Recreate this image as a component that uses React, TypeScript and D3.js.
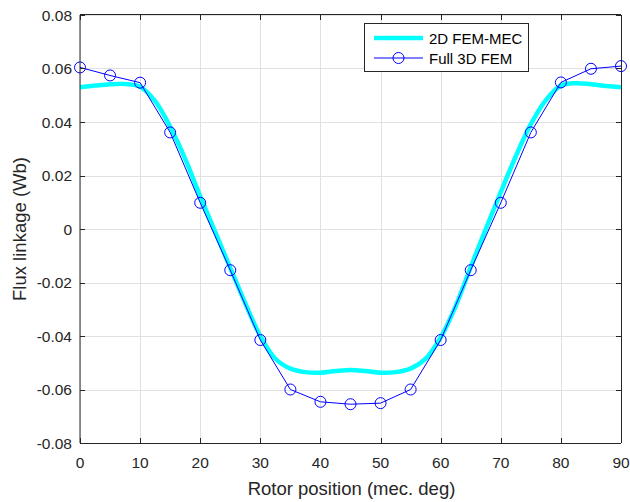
import React from "react";
import * as d3 from "d3";

const fem2dDeg = [0, 2.5, 5, 7.5, 10, 12.5, 15, 17.5, 20, 22.5, 25, 27.5, 30, 32.5, 35, 37.5, 40, 42.5, 45, 47.5, 50, 52.5, 55, 57.5, 60, 62.5, 65, 67.5, 70, 72.5, 75, 77.5, 80, 82.5, 85, 87.5, 90];
const fem2dVal = [0.0530, 0.0536, 0.0541, 0.0542, 0.0532, 0.0478, 0.0382, 0.0262, 0.0122, -0.0012, -0.0145, -0.0278, -0.0400, -0.0485, -0.0522, -0.0535, -0.0537, -0.0531, -0.0527, -0.0531, -0.0537, -0.0535, -0.0522, -0.0485, -0.0405, -0.0288, -0.0142, 0.0000, 0.0138, 0.0272, 0.0392, 0.0482, 0.0536, 0.0545, 0.0541, 0.0535, 0.0530];

const fem3dDeg = [0, 5, 10, 15, 20, 25, 30, 35, 40, 45, 50, 55, 60, 65, 70, 75, 80, 85, 90];
const fem3dVal = [0.0604, 0.0574, 0.0547, 0.0361, 0.0098, -0.0154, -0.0415, -0.0600, -0.0646, -0.0655, -0.0651, -0.0600, -0.0415, -0.0154, 0.0098, 0.0361, 0.0548, 0.0599, 0.0609];

const xTicks = [0, 10, 20, 30, 40, 50, 60, 70, 80, 90];
const yTicks = [-0.08, -0.06, -0.04, -0.02, 0, 0.02, 0.04, 0.06, 0.08];
const yTickLabels = ["-0.08", "-0.06", "-0.04", "-0.02", "0", "0.02", "0.04", "0.06", "0.08"];
const seriesNames = ["2D FEM-MEC", "Full 3D FEM"];
const xLabel = "Rotor position (mec. deg)";
const yLabel = "Flux linkage (Wb)";

const W = 630, H = 502;
const L = 80, R = 621, T = 15, B = 443;
const FONT = "'Liberation Sans', Arial, sans-serif";
const AX = "#262626";
const GRID = "#e1e1e1";

export default function App() {
  const x = d3.scaleLinear().domain([0, 90]).range([L, R]);
  const y = d3.scaleLinear().domain([-0.08, 0.08]).range([B, T]);

  const line2d = d3.line<number>()
    .x((_, i) => x(fem2dDeg[i]))
    .y((d) => y(d))
    .curve(d3.curveCatmullRom.alpha(0.5));
  const line3d = d3.line<number>()
    .x((_, i) => x(fem3dDeg[i]))
    .y((d) => y(d));

  const lx0 = 374, lx1 = 423, ly1 = 38, ly2 = 58;

  return (
    <svg width={W} height={H} style={{ position: "absolute", left: 0, top: 0 }} fontFamily={FONT}>
      <rect x={0} y={0} width={W} height={H} fill="#fff" />
      <rect x={L} y={T} width={R - L} height={B - T} fill="#fff" />
      {/* grid */}
      {xTicks.map((t) => (
        <line key={"gx" + t} x1={Math.round(x(t)) + 0.5} x2={Math.round(x(t)) + 0.5} y1={T} y2={B} stroke={GRID} strokeWidth={1} />
      ))}
      {yTicks.map((t) => (
        <line key={"gy" + t} x1={L} x2={R} y1={Math.round(y(t)) + 0.5} y2={Math.round(y(t)) + 0.5} stroke={GRID} strokeWidth={1} />
      ))}
      {/* data */}
      <path d={line2d(fem2dVal) || ""} fill="none" stroke="#00ffff" strokeWidth={4.5} />
      <path d={line3d(fem3dVal) || ""} fill="none" stroke="#0000ff" strokeWidth={1} />
      {fem3dVal.map((v, i) => (
        <circle key={"m" + i} cx={x(fem3dDeg[i])} cy={y(v)} r={5.5} fill="none" stroke="#0000ff" strokeWidth={1} />
      ))}
      {/* axes box */}
      <line x1={L} x2={R} y1={B + 0.5} y2={B + 0.5} stroke={AX} />
      <line x1={L} x2={R} y1={T - 0.5} y2={T - 0.5} stroke={AX} />
      <line x1={L} x2={L} y1={T} y2={B} stroke={AX} />
      <line x1={R + 0.5} x2={R + 0.5} y1={T} y2={B} stroke={AX} />
      {xTicks.map((t) => (
        <g key={"tx" + t}>
          <line x1={Math.round(x(t)) + 0.5} x2={Math.round(x(t)) + 0.5} y1={B} y2={B - 5} stroke={AX} />
          <line x1={Math.round(x(t)) + 0.5} x2={Math.round(x(t)) + 0.5} y1={T} y2={T + 5} stroke={AX} />
          <text x={x(t)} y={462} textAnchor="middle" dominantBaseline="central" fontSize={15.5} fill={AX}>{t}</text>
        </g>
      ))}
      {yTicks.map((t, i) => (
        <g key={"ty" + t}>
          <line x1={L} x2={L + 5} y1={Math.round(y(t)) + 0.5} y2={Math.round(y(t)) + 0.5} stroke={AX} />
          <line x1={R} x2={R - 5} y1={Math.round(y(t)) + 0.5} y2={Math.round(y(t)) + 0.5} stroke={AX} />
          <text x={72} y={y(t)} textAnchor="end" dominantBaseline="central" fontSize={15.5} fill={AX}>{yTickLabels[i]}</text>
        </g>
      ))}
      {/* axis labels */}
      <text x={(L + R) / 2 + 1} y={488} textAnchor="middle" dominantBaseline="central" fontSize={18.5} fill={AX}>{xLabel}</text>
      <text transform={`translate(19,${(T + B) / 2}) rotate(-90)`} textAnchor="middle" dominantBaseline="central" fontSize={18.5} fill={AX}>{yLabel}</text>
      {/* legend */}
      <rect x={364.5} y={23.5} width={164} height={48} fill="#fff" stroke={AX} strokeWidth={1} />
      <line x1={lx0} x2={lx1} y1={ly1} y2={ly1} stroke="#00ffff" strokeWidth={4.5} />
      <line x1={lx0} x2={lx1} y1={ly2} y2={ly2} stroke="#0000ff" strokeWidth={1} />
      <circle cx={(lx0 + lx1) / 2} cy={ly2} r={5.5} fill="none" stroke="#0000ff" strokeWidth={1} />
      <text x={429} y={ly1} dominantBaseline="central" fontSize={15} fill="#000">{seriesNames[0]}</text>
      <text x={429} y={ly2} dominantBaseline="central" fontSize={15} fill="#000">{seriesNames[1]}</text>
    </svg>
  );
}
